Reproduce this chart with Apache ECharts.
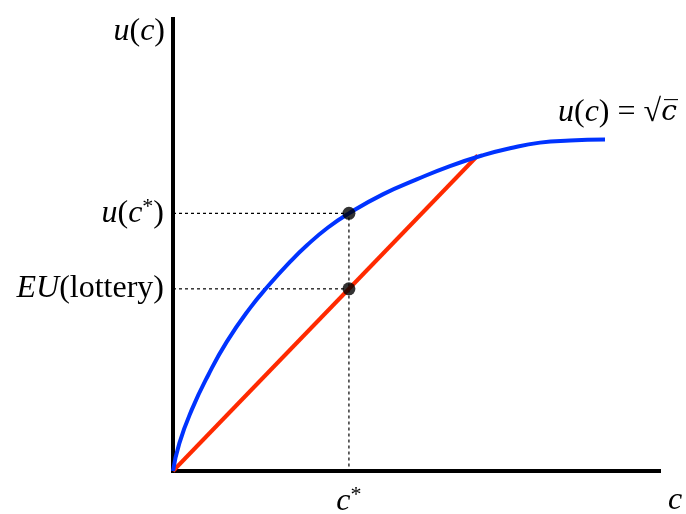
<!DOCTYPE html>
<html>
<head>
<meta charset="utf-8">
<script src="https://cdn.jsdelivr.net/npm/echarts@6/dist/echarts.min.js"></script>
<style>
  html, body { margin: 0; padding: 0; background: #fff; }
  #chart { width: 686px; height: 514px; }
</style>
</head>
<body>
<div id="chart"></div>
<script>
  // utility curve (c on 0..100, u on 0..100)
  var cValues = [0, 1.30, 3.85, 7.26, 11.05, 15.84, 19.61, 24.07, 27.51, 31.89, 36.2, 43.27, 50.14, 56.99, 63.85, 69.34, 75.51, 81.69, 88.89];
  var uValues = [0, 6.13, 13.52, 21.24, 28.56, 36.04, 40.97, 46.26, 49.89, 53.87, 57.0, 61.26, 64.51, 67.46, 69.89, 71.4, 72.65, 73.12, 73.34];

  // straight line of the lottery
  var lotteryC = [0, 62.7];
  var lotteryU = [0, 69.8];

  // marked points
  var cStar = 36.2;
  var uCStar = 57.0;
  var euLottery = 40.3;

  var font = '"Liberation Serif", "DejaVu Serif", serif';
  var rich = {
    i: { fontFamily: font, fontStyle: 'italic', fontSize: 32, color: '#000' },
    r: { fontFamily: font, fontSize: 32, color: '#000' },
    s: { fontFamily: font, fontSize: 22, color: '#000', padding: [0, 0, 13, 0] }
  };

  function zip(xs, ys) {
    return xs.map(function (x, k) { return [x, ys[k]]; });
  }

  var chart = echarts.init(document.getElementById('chart'));

  var option = {
    animation: false,
    grid: { left: 173, right: 27, top: 19, bottom: 43, containLabel: false, outerBoundsMode: 'none' },
    xAxis: {
      type: 'value',
      min: 0,
      max: 100,
      splitLine: { show: false },
      axisTick: { show: false },
      axisLine: { lineStyle: { color: '#000', width: 4, cap: 'square' } },
      axisLabel: {
        customValues: [cStar],
        margin: 13,
        formatter: function () { return '{i|c}{s|*}'; },
        rich: rich
      },
      name: '{i|c}',
      nameLocation: 'end',
      nameGap: 9,
      nameTextStyle: { align: 'left', verticalAlign: 'top', padding: [14, 0, 0, 0], rich: rich }
    },
    yAxis: {
      type: 'value',
      min: 0,
      max: 100,
      splitLine: { show: false },
      axisTick: { show: false },
      axisLine: { lineStyle: { color: '#000', width: 4, cap: 'square' } },
      axisLabel: {
        customValues: [euLottery, uCStar],
        margin: 9,
        formatter: function (v) {
          if (v === uCStar) return '{i|u}{r|(}{i|c}{s|*}{r|)}';
          return '{i|EU}{r|(lottery)}';
        },
        rich: rich
      },
      name: '{i|u}{r|(}{i|c}{r|)}',
      nameLocation: 'end',
      nameGap: 3,
      nameTextStyle: { align: 'right', verticalAlign: 'top', padding: [0, 8, 0, 0], rich: rich }
    },
    series: [
      {
        type: 'line',
        data: [[0, uCStar], [cStar, uCStar], [cStar, 0]],
        symbol: 'none',
        lineStyle: { color: '#000', width: 1.2, type: [3, 3] },
        z: 1
      },
      {
        type: 'line',
        data: [[0, euLottery], [cStar, euLottery]],
        symbol: 'none',
        lineStyle: { color: '#000', width: 1.2, type: [3, 3] },
        z: 1
      },
      {
        type: 'line',
        data: zip(lotteryC, lotteryU),
        symbol: 'none',
        lineStyle: { color: '#ff2a00', width: 4 },
        z: 2
      },
      {
        type: 'line',
        data: zip(cValues, uValues),
        symbol: 'none',
        smooth: 0.5,
        lineStyle: { color: '#0033ff', width: 4 },
        endLabel: {
          show: true,
          offset: [-55, -27],
          formatter: '{i|u}{r|(}{i|c}{r|) = √}{o|c\u0305}',
          rich: {
            i: rich.i,
            r: rich.r,
            o: { fontFamily: '"DejaVu Serif", serif', fontStyle: 'italic', fontSize: 28, color: '#000' }
          }
        },
        z: 3
      },
      {
        type: 'scatter',
        data: [[cStar, uCStar], [cStar, euLottery]],
        symbolSize: 13,
        itemStyle: { color: '#000' },
        z: 4
      }
    ]
  };

  chart.setOption(option);
</script>
</body>
</html>
